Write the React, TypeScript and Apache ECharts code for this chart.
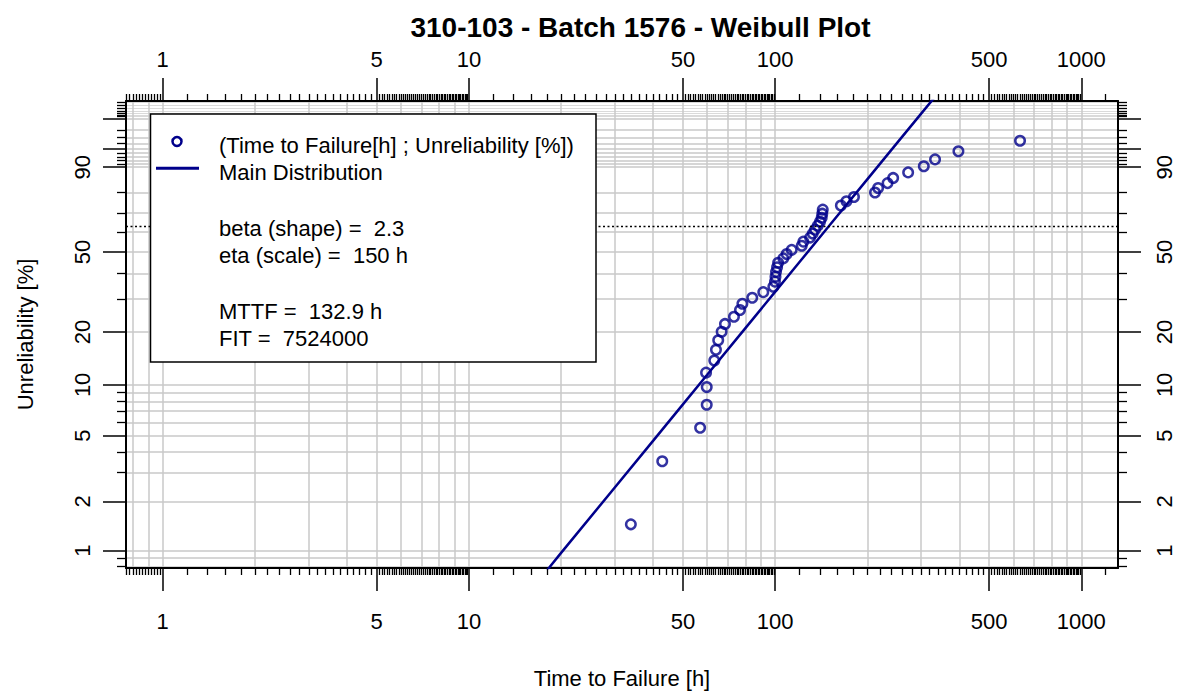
import React, { useEffect, useRef } from "react";
import * as echarts from "echarts";

// ---------------- data ----------------
const TITLE = "310-103 - Batch 1576 - Weibull Plot";

// observed failures: time to failure [h] and median-rank unreliability [%]
const failureTimes = [
  33.8, 42.8, 56.9, 59.8, 59.8, 59.5, 63.3, 64.1, 65.2, 66.9, 68.6, 73.4, 76.8, 78.2, 84.2, 91.5,
  98.7, 99.9, 100.3, 100.7, 101.5, 102.3, 106.4, 109.1, 113.3, 122.2, 123.7, 130.1, 132.7, 135.0,
  137.8, 140.2, 142.0, 142.6, 143.1, 164, 171, 181, 212, 217, 233, 243, 272, 306, 333, 397, 631,
];
const unreliability = [
  1.45, 3.51, 5.58, 7.64, 9.71, 11.78, 13.84, 15.91, 17.98, 20.04, 22.11, 24.17, 26.24, 28.31, 30.37,
  32.44, 34.5, 36.57, 38.64, 40.7, 42.77, 44.83, 46.9, 48.97, 51.03, 53.1, 55.17, 57.23, 59.3, 61.36,
  63.43, 65.5, 67.56, 69.63, 71.69, 73.76, 75.83, 77.89, 79.96, 82.02, 84.09, 86.16, 88.22, 90.29,
  92.36, 94.42, 96.49,
];

// main distribution line
const lineTimes = [18, 20, 30, 40, 50, 60, 80, 100, 120, 150, 200, 250, 300, 330];
const lineUnrel = [0.76, 0.97, 2.44, 4.67, 7.68, 11.44, 20.99, 32.53, 45.04, 63.21, 85.6, 96.08, 99.27, 99.78];

const characteristicLife = 63.21; // dotted reference line [%]

const legendLines = [
  "(Time to Failure[h] ; Unreliability [%])",
  "Main Distribution",
  "beta (shape) =  2.3",
  "eta (scale) =  150 h",
  "MTTF =  132.9 h",
  "FIT =  7524000",
];

// tick / grid values
const xLabelTicks = [1, 5, 10, 50, 100, 500, 1000];
const xGridValues = [
  0.8, 0.9, 1, 2, 3, 4, 5, 6, 7, 8, 9, 10, 20, 30, 40, 50, 60, 70, 80, 90, 100, 200, 300, 400, 500,
  600, 700, 800, 900, 1000,
];
const xMinorTickRanges = [
  [0.76, 0.98, 0.02],
  [1.2, 4.8, 0.2],
  [5.1, 9.9, 0.1],
  [12, 48, 2],
  [51, 99, 1],
  [120, 480, 20],
  [510, 990, 10],
  [1200, 1200, 200],
];
const yLabelTicks = [1, 2, 5, 10, 20, 50, 90];
const yMajorTicks = [1, 2, 5, 10, 20, 50, 90, 95, 99];
const yMinorTicks = [
  0.8, 0.9, 3, 4, 6, 7, 8, 9, 30, 40, 60, 70, 80, 91, 92, 93, 94, 96, 97, 98, 99.1, 99.2, 99.3, 99.4,
  99.5, 99.6, 99.7,
];

// ---------------- helpers ----------------
const NAVY = "#00008B";
const FONT = "'Liberation Sans', Arial, Helvetica, sans-serif";
const GRID_COLOR = "#c8c8c8";

const toX = (t: number) => Math.log10(t);
const toY = (p: number) => Math.log(-Math.log(1 - p / 100));

const X_MIN = -0.12;
const X_MAX = 3.12;
const Y_MIN = -4.845;
const Y_MAX = 1.772;

function expandRanges(ranges: number[][]): number[] {
  const out: number[] = [];
  ranges.forEach(([a, b, s]) => {
    const n = Math.round((b - a) / s);
    for (let i = 0; i <= n; i++) out.push(+(a + i * s).toFixed(4));
  });
  return out;
}

const xMinorTicks = expandRanges(xMinorTickRanges);
const yAllTicks = [...yMajorTicks, ...yMinorTicks];
const yGridValues = yAllTicks.filter((v) => v <= 99);
const yFineGridValues = yAllTicks.filter((v) => v > 99);

const textStyle = { fontFamily: FONT, fontSize: 22, color: "#000" };
const fmtX = (v: number) => String(Math.round(Math.pow(10, v)));
const fmtY = (v: number) => String(Math.round((1 - Math.exp(-Math.exp(v))) * 100));

function baseAxis(position: string, min: number, max: number): any {
  return {
    type: "value",
    gridIndex: 0,
    position,
    min,
    max,
    axisLine: { show: false, onZero: false },
    axisTick: { show: false },
    axisLabel: { show: false },
    splitLine: { show: false },
  };
}

function makeXAxis(position: "top" | "bottom", kind: "major" | "minor" | "grid"): any {
  const ax: any = baseAxis(position, X_MIN, X_MAX);
  if (kind === "major") {
    ax.axisLine = { show: true, onZero: false, lineStyle: { color: "#000", width: 2 } };
    ax.axisTick = {
      show: true,
      customValues: xLabelTicks.map(toX),
      length: 23,
      lineStyle: { color: "#000", width: 1.5 },
    };
    ax.axisLabel = {
      show: true,
      customValues: xLabelTicks.map(toX),
      formatter: fmtX,
      margin: position === "bottom" ? 42 : 31,
      ...textStyle,
    };
    if (position === "bottom") {
      ax.name = "Time to Failure [h]";
      ax.nameLocation = "middle";
      ax.nameGap = 99;
      ax.nameTextStyle = textStyle;
      ax.nameMoveOverlap = false;
    }
  } else if (kind === "minor") {
    ax.axisTick = {
      show: true,
      customValues: xMinorTicks.map(toX),
      length: 7,
      lineStyle: { color: "#000", width: 1.3 },
    };
  } else {
    ax.axisTick = { show: false, customValues: xGridValues.map(toX) };
    ax.splitLine = { show: true, lineStyle: { color: GRID_COLOR, width: 1.5 } };
  }
  return ax;
}

function makeYAxis(position: "left" | "right", kind: "major" | "minor" | "grid" | "fineGrid"): any {
  const ax: any = baseAxis(position, Y_MIN, Y_MAX);
  if (kind === "major") {
    ax.axisLine = { show: true, onZero: false, lineStyle: { color: "#000", width: 2 } };
    ax.axisTick = {
      show: true,
      customValues: yMajorTicks.map(toY),
      length: 23,
      lineStyle: { color: "#000", width: 1.5 },
    };
    ax.axisLabel = {
      show: true,
      customValues: yLabelTicks.map(toY),
      formatter: fmtY,
      rotate: 90,
      margin: position === "left" ? 33 : 35,
      ...textStyle,
    };
    if (position === "left") {
      ax.name = "Unreliability [%]";
      ax.nameLocation = "middle";
      ax.nameRotate = 90;
      ax.nameGap = 90;
      ax.nameTextStyle = textStyle;
      ax.nameMoveOverlap = false;
    }
  } else if (kind === "minor") {
    ax.axisTick = {
      show: true,
      customValues: yMinorTicks.map(toY),
      length: 9,
      lineStyle: { color: "#000", width: 1.3 },
    };
  } else if (kind === "grid") {
    ax.axisTick = { show: false, customValues: yGridValues.map(toY) };
    ax.splitLine = { show: true, lineStyle: { color: GRID_COLOR, width: 1.5 } };
  } else {
    ax.axisTick = { show: false, customValues: yFineGridValues.map(toY) };
    ax.splitLine = { show: true, lineStyle: { color: "#d0d0d0", width: 0.8 } };
  }
  return ax;
}

function buildOption(): any {
  const legendX = 150.5;
  const legendY = 114;
  const textX = 219;
  const textYs = [145.5, 172, 228.5, 255, 311.5, 338];

  return {
    animation: false,
    backgroundColor: "#fff",
    grid: {
      left: 126,
      right: 62,
      top: 101,
      bottom: 125,
      containLabel: false,
      outerBoundsMode: "none",
    },
    xAxis: [
      makeXAxis("bottom", "major"),
      makeXAxis("bottom", "grid"),
      makeXAxis("bottom", "minor"),
      makeXAxis("top", "major"),
      makeXAxis("top", "minor"),
    ],
    yAxis: [
      makeYAxis("left", "major"),
      makeYAxis("left", "grid"),
      makeYAxis("left", "fineGrid"),
      makeYAxis("left", "minor"),
      makeYAxis("right", "major"),
      makeYAxis("right", "minor"),
    ],
    series: [
      {
        name: "Main Distribution",
        type: "line",
        xAxisIndex: 0,
        yAxisIndex: 0,
        data: lineTimes.map((t, i) => [toX(t), toY(lineUnrel[i])]),
        showSymbol: false,
        symbol: "none",
        clip: true,
        z: 3,
        lineStyle: { color: NAVY, width: 2.5 },
        markLine: {
          silent: true,
          symbol: ["none", "none"],
          label: { show: false },
          lineStyle: { color: "#000", width: 1.3, type: [2, 2.5] },
          data: [{ yAxis: toY(characteristicLife) }],
        },
      },
      {
        name: "(Time to Failure[h] ; Unreliability [%])",
        type: "scatter",
        xAxisIndex: 0,
        yAxisIndex: 0,
        data: failureTimes.map((t, i) => [toX(t), toY(unreliability[i])]),
        symbol: "circle",
        symbolSize: 9.5,
        z: 4,
        itemStyle: { color: "rgba(0,0,0,0)", borderColor: NAVY, borderWidth: 2.5 },
      },
    ],
    graphic: [
      {
        type: "text",
        x: 640.5,
        y: 27,
        z: 100,
        style: {
          text: TITLE,
          fontFamily: FONT,
          fontSize: 28,
          fontWeight: "bold",
          fill: "#000",
          align: "center",
          verticalAlign: "middle",
        },
      },
      {
        type: "group",
        z: 100,
        children: [
          {
            type: "rect",
            z: 100,
            shape: { x: legendX, y: legendY, width: 445.5, height: 248 },
            style: { fill: "#fff", stroke: "#000", lineWidth: 1.5 },
          },
          {
            type: "circle",
            z: 101,
            shape: { cx: 177, cy: 141.5, r: 4.5 },
            style: { fill: "none", stroke: NAVY, lineWidth: 2.5 },
          },
          {
            type: "line",
            z: 101,
            shape: { x1: 156, y1: 168.3, x2: 199, y2: 168.3 },
            style: { stroke: NAVY, lineWidth: 3 },
          },
          ...legendLines.map((t, i) => ({
            type: "text",
            z: 101,
            x: textX,
            y: textYs[i],
            style: {
              text: t,
              fontFamily: FONT,
              fontSize: 22,
              fill: "#000",
              align: "left",
              verticalAlign: "middle",
            },
          })),
        ],
      },
    ],
  };
}

export default function App() {
  const ref = useRef<HTMLDivElement>(null);
  useEffect(() => {
    if (!ref.current) return;
    const chart = echarts.init(ref.current, undefined, { renderer: "svg" });
    chart.setOption(buildOption());
    return () => chart.dispose();
  }, []);
  return (
    <div
      ref={ref}
      style={{ position: "fixed", left: 0, top: 0, width: 1180, height: 693, background: "#fff" }}
    />
  );
}
